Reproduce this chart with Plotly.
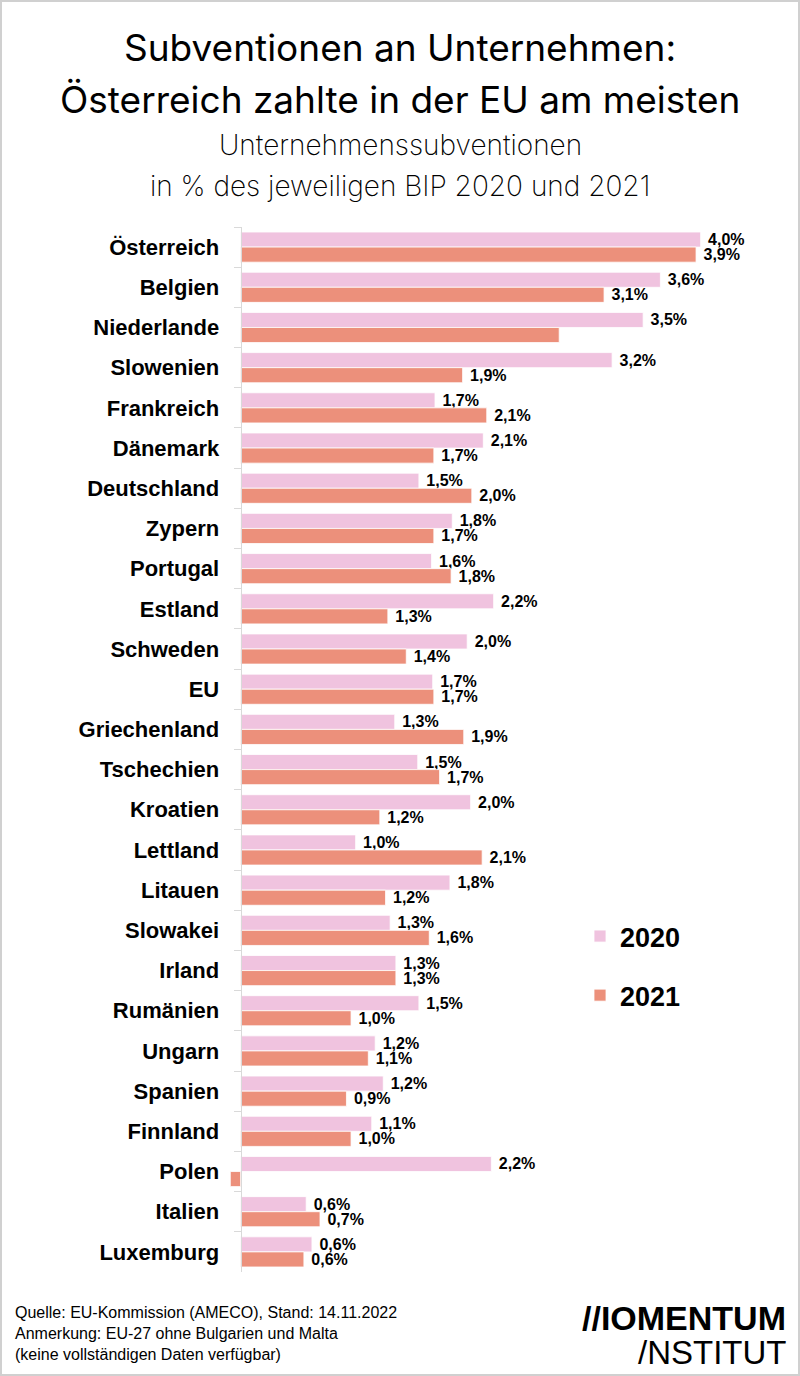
import plotly.graph_objects as go

countries = ["Österreich", "Belgien", "Niederlande", "Slowenien", "Frankreich", "Dänemark",
             "Deutschland", "Zypern", "Portugal", "Estland", "Schweden", "EU", "Griechenland",
             "Tschechien", "Kroatien", "Lettland", "Litauen", "Slowakei", "Irland", "Rumänien",
             "Ungarn", "Spanien", "Finnland", "Polen", "Italien", "Luxemburg"]

values_2020 = [4.00, 3.65, 3.50, 3.23, 1.69, 2.11, 1.55, 1.84, 1.66, 2.20, 1.97, 1.67, 1.34,
               1.54, 2.00, 1.00, 1.82, 1.30, 1.35, 1.55, 1.17, 1.24, 1.14, 2.18, 0.57, 0.62]
values_2021 = [3.96, 3.16, 2.77, 1.93, 2.14, 1.68, 2.01, 1.68, 1.83, 1.28, 1.44, 1.68, 1.94,
               1.73, 1.21, 2.10, 1.26, 1.64, 1.35, 0.96, 1.11, 0.92, 0.96, -0.09, 0.69, 0.55]

labels_2020 = ["4,0%", "3,6%", "3,5%", "3,2%", "1,7%", "2,1%", "1,5%", "1,8%", "1,6%", "2,2%",
               "2,0%", "1,7%", "1,3%", "1,5%", "2,0%", "1,0%", "1,8%", "1,3%", "1,3%", "1,5%",
               "1,2%", "1,2%", "1,1%", "2,2%", "0,6%", "0,6%"]
labels_2021 = ["3,9%", "3,1%", "", "1,9%", "2,1%", "1,7%", "2,0%", "1,7%", "1,8%", "1,3%",
               "1,4%", "1,7%", "1,9%", "1,7%", "1,2%", "2,1%", "1,2%", "1,6%", "1,3%", "1,0%",
               "1,1%", "0,9%", "1,0%", "", "0,7%", "0,6%"]

series_names = ["2020", "2021"]
colors = ["#f0c3df", "#ec907b"]

footer_lines = ["Quelle: EU-Kommission (AMECO), Stand: 14.11.2022",
                "Anmerkung: EU-27 ohne Bulgarien und Malta",
                "(keine vollständigen Daten verfügbar)"]

W, H = 800, 1376
L, R, T, B = 228, 20, 227, 104
PW, PH = W - L - R, H - T - B
XMIN = -0.11
PX_PER_UNIT = 115.0
XMAX = XMIN + PW / PX_PER_UNIT


def px_x(x):
    return (x - L) / PW


def px_y(y):
    return (H - B - y) / PH


fig = go.Figure()
for name, vals, labs, col in zip(series_names, [values_2020, values_2021],
                                 [labels_2020, labels_2021], colors):
    fig.add_trace(go.Bar(
        y=countries, x=vals, name=name, orientation="h",
        marker=dict(color=col, line=dict(color="white", width=0.8)),
        text=[(" " + t) if t else "" for t in labs],
        textposition="outside", cliponaxis=False, constraintext="none",
        textfont=dict(family="Liberation Sans, Arial, sans-serif", size=16, color="#000000",
                      weight="bold"),
        legendgroup=name, hoverinfo="skip",
    ))

font_title = "Inter, Lato, sans-serif"
annotations = [
    dict(text="Subventionen an Unternehmen:", x=px_x(400), y=px_y(48), xref="paper", yref="paper",
         xanchor="center", yanchor="middle", showarrow=False,
         font=dict(family=font_title, size=37, color="#000", weight=400)),
    dict(text="Österreich zahlte in der EU am meisten", x=px_x(400), y=px_y(100), xref="paper",
         yref="paper", xanchor="center", yanchor="middle", showarrow=False,
         font=dict(family=font_title, size=37, color="#000", weight=400)),
    dict(text="Unternehmenssubventionen", x=px_x(400), y=px_y(145), xref="paper", yref="paper",
         xanchor="center", yanchor="middle", showarrow=False,
         font=dict(family=font_title, size=28, color="#000", weight=200)),
    dict(text="in % des jeweiligen BIP 2020 und 2021", x=px_x(400), y=px_y(186), xref="paper",
         yref="paper", xanchor="center", yanchor="middle", showarrow=False,
         font=dict(family=font_title, size=28, color="#000", weight=200)),
    dict(text="//IOMENTUM", x=px_x(788), y=px_y(1318), xref="paper", yref="paper",
         xanchor="right", yanchor="middle", showarrow=False,
         font=dict(family="Liberation Sans, Arial, sans-serif", size=34, color="#000",
                   weight="bold")),
    dict(text="/NSTITUT", x=px_x(788), y=px_y(1352), xref="paper", yref="paper",
         xanchor="right", yanchor="middle", showarrow=False,
         font=dict(family="Liberation Sans, Arial, sans-serif", size=33, color="#000")),
    dict(text="<br>".join(footer_lines), x=px_x(13), y=px_y(1333.5), xref="paper",
         yref="paper", xanchor="left", yanchor="middle", align="left", showarrow=False,
         font=dict(family="Liberation Sans, Arial, sans-serif", size=16, color="#000")),
]

fig.update_layout(
    width=W, height=H,
    margin=dict(l=L, r=R, t=T, b=B, pad=0),
    paper_bgcolor="white", plot_bgcolor="white",
    barmode="group", bargap=0.25, bargroupgap=0,
    showlegend=True,
    legend=dict(x=px_x(580), y=px_y(912), xanchor="left", yanchor="top",
                traceorder="grouped", tracegroupgap=21, itemwidth=30,
                font=dict(family="Liberation Sans, Arial, sans-serif", size=27, color="#000",
                          weight="bold"),
                bgcolor="rgba(0,0,0,0)"),
    xaxis=dict(range=[XMIN, XMAX], showgrid=False, zeroline=False, showline=False,
               showticklabels=False, ticks="", fixedrange=True),
    yaxis=dict(categoryorder="array", categoryarray=countries, autorange="reversed",
               anchor="free", position=px_x(240.6), showline=True, linecolor="#d9d9d9",
               linewidth=1, ticks="outside", tickson="boundaries", ticklen=7,
               tickcolor="#d9d9d9", ticklabelstandoff=17, showgrid=False,
               tickfont=dict(family="Liberation Sans, Arial, sans-serif", size=22,
                             color="#000", weight="bold")),
    annotations=annotations,
    shapes=[dict(type="rect", xref="paper", yref="paper",
                 x0=px_x(1), x1=px_x(799), y0=px_y(1375), y1=px_y(1),
                 line=dict(color="#d0d0d0", width=2), fillcolor="rgba(0,0,0,0)", layer="below")],
)

fig.write_html("out.html", config={"displayModeBar": False},
               post_script="document.body.style.margin='0';")
